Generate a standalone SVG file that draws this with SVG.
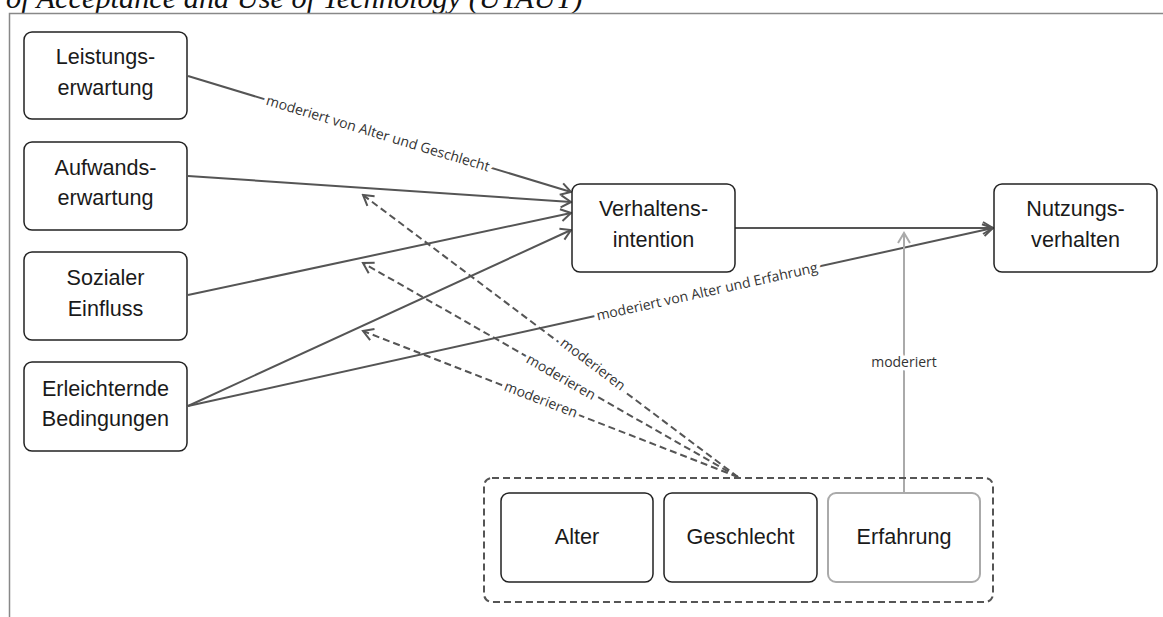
<svg xmlns="http://www.w3.org/2000/svg" width="1163" height="617" viewBox="0 0 1163 617">
<style>
.node rect{fill:#fff;stroke:#222;stroke-width:1.5}
.node text{font-family:"Liberation Sans",Arial,sans-serif;font-size:21.6px;fill:#1a1a1a;text-anchor:middle}
.conn{fill:none;stroke:#555;stroke-width:2}
.dash{fill:none;stroke:#555;stroke-width:2;stroke-dasharray:7 4}
.lbl{font-family:"Open Sans","Noto Sans",sans-serif;font-size:14px;fill:#333;text-anchor:middle;stroke:#fff;stroke-width:7;paint-order:stroke;stroke-linejoin:round}
</style>
<defs>
<marker id="arr" viewBox="-12 -8 14 16" markerWidth="14" markerHeight="16" refX="0" refY="0" orient="auto" markerUnits="userSpaceOnUse">
<path d="M-10,-6 L0,0 L-10,6" fill="none" stroke="#555" stroke-width="2"/>
</marker>
<marker id="arrg" viewBox="-12 -8 14 16" markerWidth="14" markerHeight="16" refX="0" refY="0" orient="auto" markerUnits="userSpaceOnUse">
<path d="M-10,-6 L0,0 L-10,6" fill="none" stroke="#aaa" stroke-width="2"/>
</marker>
</defs>
<rect width="1163" height="617" fill="#fff"/>
<text x="6" y="7.5" font-family="'Liberation Serif','Times New Roman',serif" font-style="italic" font-size="30.3" fill="#111">of Acceptance and Use of Technology (UTAUT)</text>
<path d="M9.5,617 V13.5 H1163" fill="none" stroke="#888" stroke-width="1.5"/>

<g id="connectors">
<line class="conn" x1="188" y1="76" x2="571" y2="192" marker-end="url(#arr)"/>
<line class="conn" x1="188" y1="176" x2="571" y2="202" marker-end="url(#arr)"/>
<line class="conn" x1="188" y1="295" x2="571" y2="213" marker-end="url(#arr)"/>
<line class="conn" x1="188" y1="406" x2="571" y2="230" marker-end="url(#arr)"/>
<line class="conn" x1="188" y1="406" x2="993" y2="228" marker-end="url(#arr)"/>
<line class="conn" x1="735" y1="228" x2="993" y2="228" marker-end="url(#arr)"/>
<line class="dash" x1="738" y1="477" x2="363" y2="195" marker-end="url(#arr)"/>
<line class="dash" x1="738" y1="477" x2="363" y2="263" marker-end="url(#arr)"/>
<line class="dash" x1="738" y1="477" x2="363" y2="331" marker-end="url(#arr)"/>
<line x1="904" y1="493" x2="904" y2="233" fill="none" stroke="#aaa" stroke-width="2" marker-end="url(#arrg)"/>
<text class="lbl" transform="translate(378,133.5) rotate(16.8)" dy="4.8">moderiert von Alter und Geschlecht</text>
<text class="lbl" transform="translate(707,291.5) rotate(-12.45)" dy="4.8">moderiert von Alter und Erfahrung</text>
<text class="lbl" transform="translate(593,364) rotate(37)" dy="4.8">moderieren</text>
<text class="lbl" transform="translate(561,377) rotate(29.7)" dy="4.8">moderieren</text>
<text class="lbl" transform="translate(541,399.5) rotate(21.1)" dy="4.8">moderieren</text>
<text class="lbl" x="904" y="367">moderiert</text>
</g>

<g id="leistungserwartung" class="node">
<rect x="24" y="32" width="163" height="87" rx="8"/>
<text x="105.5" y="64">Leistungs-</text>
<text x="105.5" y="95">erwartung</text>
</g>
<g id="aufwandserwartung" class="node">
<rect x="24" y="142" width="163" height="88" rx="8"/>
<text x="105.5" y="175">Aufwands-</text>
<text x="105.5" y="205">erwartung</text>
</g>
<g id="sozialer-einfluss" class="node">
<rect x="24" y="252" width="163" height="88" rx="8"/>
<text x="105.5" y="285">Sozialer</text>
<text x="105.5" y="316">Einfluss</text>
</g>
<g id="erleichternde-bedingungen" class="node">
<rect x="24" y="362" width="163" height="89" rx="8"/>
<text x="105.5" y="396">Erleichternde</text>
<text x="105.5" y="426">Bedingungen</text>
</g>
<g id="verhaltensintention" class="node">
<rect x="572" y="184" width="163" height="88" rx="8"/>
<text x="653.5" y="216">Verhaltens-</text>
<text x="653.5" y="247">intention</text>
</g>
<g id="nutzungsverhalten" class="node">
<rect x="994" y="184" width="163" height="88" rx="8"/>
<text x="1075.5" y="216">Nutzungs-</text>
<text x="1075.5" y="247">verhalten</text>
</g>
<g id="moderatoren">
<rect x="484" y="478" width="509" height="124" rx="8" fill="none" stroke="#555" stroke-width="2" stroke-dasharray="7 4"/>
</g>
<g id="alter" class="node">
<rect x="501" y="493" width="152" height="89" rx="8"/>
<text x="577" y="544">Alter</text>
</g>
<g id="geschlecht" class="node">
<rect x="664" y="493" width="153" height="89" rx="8"/>
<text x="740.5" y="544">Geschlecht</text>
</g>
<g id="erfahrung" class="node">
<rect x="828" y="493" width="152" height="89" rx="8" style="stroke:#aaa;stroke-width:2"/>
<text x="904" y="544">Erfahrung</text>
</g>
</svg>
